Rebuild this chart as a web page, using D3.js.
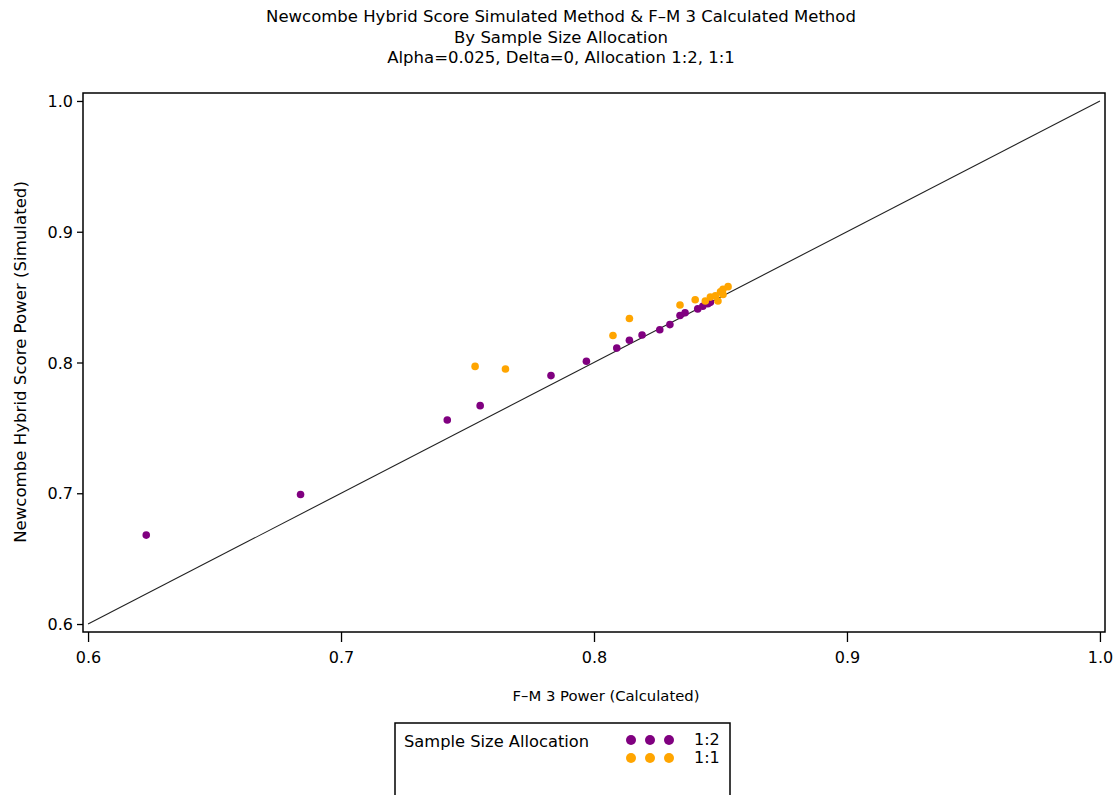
<!DOCTYPE html>
<html>
<head>
<meta charset="utf-8">
<script src="https://cdn.jsdelivr.net/npm/d3@7"></script>
<style>
  html, body { margin: 0; padding: 0; background: #fff; }
  svg { display: block; }
  text { font-family: "DejaVu Sans", sans-serif; fill: #000; }
</style>
</head>
<body>
<svg id="chart" width="1120" height="795"></svg>
<script>
// Power estimates: F-M 3 calculated (x) vs Newcombe hybrid score simulated (y)
const calc12 = [0.623, 0.684, 0.742, 0.755, 0.783, 0.797, 0.809, 0.814, 0.819, 0.826, 0.830, 0.834, 0.836, 0.841, 0.843, 0.845, 0.846];
const sim12  = [0.668, 0.699, 0.756, 0.767, 0.790, 0.801, 0.811, 0.817, 0.821, 0.825, 0.829, 0.836, 0.838, 0.841, 0.843, 0.845, 0.846];
const calc11 = [0.753, 0.765, 0.8075, 0.814, 0.834, 0.840, 0.844, 0.846, 0.848, 0.849, 0.850, 0.851, 0.853, 0.851];
const sim11  = [0.797, 0.795, 0.8206, 0.8336, 0.844, 0.848, 0.847, 0.850, 0.851, 0.847, 0.854, 0.856, 0.858, 0.852];

const groups = ["1:2", "1:1"];
const groupColors = ["#800080", "#FFA500"];
const axisTicks = [0.6, 0.7, 0.8, 0.9, 1.0];

const titleLines = [
  "Newcombe Hybrid Score Simulated Method & F\u2013M 3 Calculated Method",
  "By Sample Size Allocation",
  "Alpha=0.025, Delta=0, Allocation 1:2, 1:1"
];
const xTitle = "F\u2013M 3 Power (Calculated)";
const yTitle = "Newcombe Hybrid Score Power (Simulated)";
const legendTitle = "Sample Size Allocation";

const svg = d3.select("#chart");

// plot frame
const frame = { left: 83, top: 93, right: 1105, bottom: 632 };
const x = d3.scaleLinear().domain([0.598, 1.002]).range([frame.left, frame.right]);
const y = d3.scaleLinear().domain([0.5939, 1.0061]).range([frame.bottom, frame.top]);

// titles
svg.selectAll("text.title").data(titleLines).join("text")
  .attr("class", "title")
  .attr("x", 561)
  .attr("y", (d, i) => 22 + i * 20.5)
  .attr("text-anchor", "middle")
  .style("font-size", "16.5px")
  .text(d => d);

// frame rectangle
svg.append("rect")
  .attr("x", frame.left).attr("y", frame.top)
  .attr("width", frame.right - frame.left).attr("height", frame.bottom - frame.top)
  .attr("fill", "none").attr("stroke", "#000").attr("stroke-width", 1.5);

// reference line y = x
svg.append("line")
  .attr("x1", x(0.6)).attr("y1", y(0.6))
  .attr("x2", x(1.0)).attr("y2", y(1.0))
  .attr("stroke", "#222").attr("stroke-width", 1.1);

// axes
const xAxis = d3.axisBottom(x).tickValues(axisTicks).tickFormat(d3.format(".1f"))
  .tickSize(10).tickPadding(10);
const yAxis = d3.axisLeft(y).tickValues(axisTicks).tickFormat(d3.format(".1f"))
  .tickSize(6).tickPadding(4);

const gx = svg.append("g").attr("transform", `translate(0,${frame.bottom})`).call(xAxis);
const gy = svg.append("g").attr("transform", `translate(${frame.left},0)`).call(yAxis);
[gx, gy].forEach(g => {
  g.select(".domain").remove();
  g.selectAll(".tick line").attr("stroke", "#000").attr("stroke-width", 1.3);
  g.selectAll(".tick text").style("font-size", "16px").style("font-family", "DejaVu Sans, sans-serif").attr("fill", "#000");
});
gy.selectAll(".tick text").attr("dy", "0.35em");

// axis titles
svg.append("text")
  .attr("x", 606).attr("y", 701)
  .attr("text-anchor", "middle")
  .style("font-size", "14.8px")
  .text(xTitle);

svg.append("text")
  .attr("transform", `translate(26,${362}) rotate(-90)`)
  .attr("text-anchor", "middle")
  .style("font-size", "16.6px")
  .text(yTitle);

// points
const series = [
  { name: groups[0], color: groupColors[0], xs: calc12, ys: sim12 },
  { name: groups[1], color: groupColors[1], xs: calc11, ys: sim11 }
];
series.forEach(s => {
  svg.append("g").selectAll("circle").data(s.xs.map((v, i) => [v, s.ys[i]])).join("circle")
    .attr("cx", d => x(d[0]))
    .attr("cy", d => y(d[1]))
    .attr("r", 3.8)
    .attr("fill", s.color);
});

// legend
const lg = svg.append("g");
lg.append("rect")
  .attr("x", 395).attr("y", 723).attr("width", 335).attr("height", 90)
  .attr("fill", "none").attr("stroke", "#000").attr("stroke-width", 1.5);
lg.append("text")
  .attr("x", 404).attr("y", 747)
  .style("font-size", "16.3px")
  .text(legendTitle);
series.forEach((s, i) => {
  const cy = 740 + i * 18;
  [631, 650, 669].forEach(cx => {
    lg.append("circle").attr("cx", cx).attr("cy", cy).attr("r", 5).attr("fill", s.color);
  });
  lg.append("text")
    .attr("x", 694).attr("y", cy + 5)
    .style("font-size", "16px")
    .text(s.name);
});
</script>
</body>
</html>
